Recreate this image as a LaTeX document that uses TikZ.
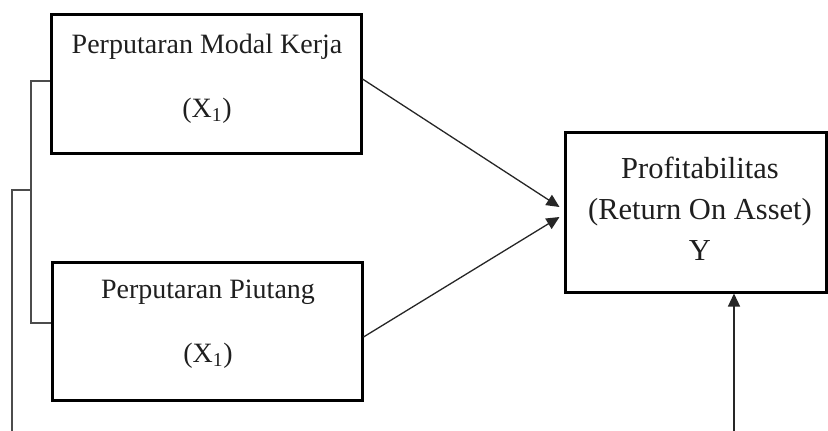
\documentclass[tikz,border=0pt]{standalone}
\usepackage{fontspec}
\setmainfont{Liberation Serif}
\usetikzlibrary{arrows.meta}
\tikzset{
  box/.style={draw=black, line width=3pt, rectangle, inner sep=0pt},
  lbl/.style={anchor=base, inner sep=0pt, font=\fontsize{28}{34}\selectfont, text=black!88},
  lbly/.style={anchor=base, inner sep=0pt, font=\fontsize{30.5}{36}\selectfont, text=black!88},
  arr/.style={draw=black!85, line width=1.3pt, -{Triangle[length=13pt,width=12pt]}},
  brk/.style={draw=black!70, line width=1.1pt}
}
\begin{document}
\begin{tikzpicture}[x=1pt,y=-1pt]
\useasboundingbox (0,0) rectangle (828,431);
% boxes
\node[box, minimum width=310pt, minimum height=139pt] (b1) at (206,83.5) {};
\node[box, minimum width=310pt, minimum height=138pt] (b2) at (207,331) {};
\node[box, minimum width=261pt, minimum height=160pt] (b3) at (695.5,212) {};
% texts
\node[lbl] (t1a) at (207,53) {Perputaran Modal Kerja};
\node[lbl] (t1b) at (207,117) {(X\textsubscript{1})};
\node[lbl] (t2a) at (208,298) {Perputaran Piutang};
\node[lbl] (t2b) at (208,362) {(X\textsubscript{1})};
\node[lbly] (t3a) at (700,178) {Profitabilitas};
\node[lbly] (t3b) at (700,219) {(Return On Asset)};
\node[lbly] (t3c) at (700,260) {Y};
% arrows
\draw[arr] ([yshift=4.5pt]b1.east) -- ([xshift=-4pt,yshift=5pt]b3.west);
\draw[arr] ([yshift=-6pt]b2.east) -- ([xshift=-4pt,yshift=-5pt]b3.west);
\coordinate (ybot) at (734,431);
\draw[arr] (ybot) -- (ybot |- b3.south);
% bracket
\coordinate (k1) at (31,81);
\coordinate (k2) at (31,323);
\coordinate (km) at (31,190);
\coordinate (kb) at (12,431);
\draw[brk] (b1.west |- k1) -- (k1) -- (k2) -- (b2.west |- k2);
\draw[brk] (km) -| (kb);
\end{tikzpicture}
\end{document}
